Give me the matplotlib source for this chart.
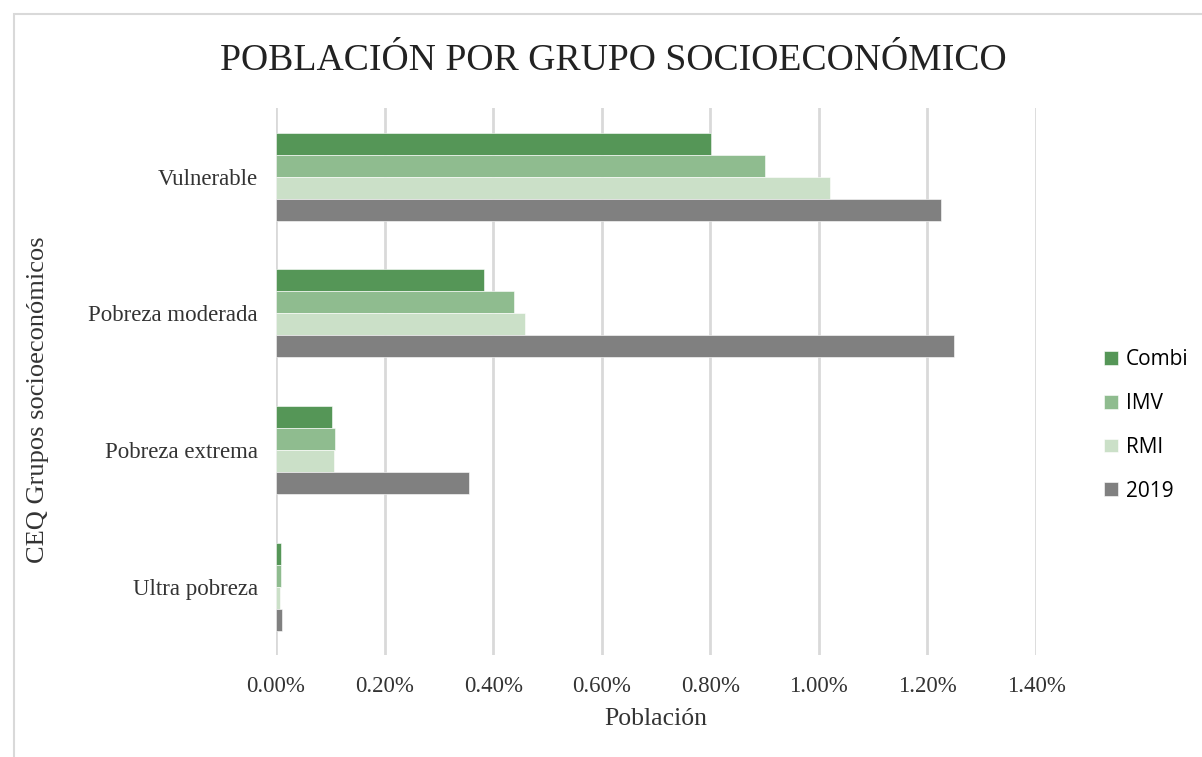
import matplotlib
matplotlib.use('Agg')
import numpy as np
import matplotlib.pyplot as plt
from matplotlib.patches import Rectangle
from matplotlib.ticker import FuncFormatter

# Data (percent of population)
categories = ['Ultra pobreza', 'Pobreza extrema', 'Pobreza moderada', 'Vulnerable']
series_names = ['Combi', 'IMV', 'RMI', '2019']
combi = [0.009, 0.103, 0.383, 0.801]
imv = [0.009, 0.109, 0.438, 0.900]
rmi = [0.008, 0.107, 0.459, 1.020]
y2019 = [0.012, 0.355, 1.249, 1.225]
colors = ['#559657', '#8fbc8f', '#cbe0c8', '#808080']

serif = 'Liberation Serif'

fig = plt.figure(figsize=(12.02, 7.57), dpi=100)
ax = fig.add_axes([0.2296, 0.1347, 0.8619 - 0.2296, 0.857 - 0.1347])

# outer chart border
fig.patches.append(Rectangle((14 / 1202, -0.1), 1.2, 1 - 14 / 757 + 0.1,
                             transform=fig.transFigure, fill=False,
                             edgecolor='#d9d9d9', linewidth=1.5))

y = np.arange(len(categories))
h = 0.161
offsets = [1.5, 0.5, -0.5, -1.5]
for vals, name, col, off in zip([combi, imv, rmi, y2019], series_names, colors, offsets):
    ax.barh(y + off * h, vals, height=h, color=col, label=name,
            edgecolor='white', linewidth=0.4, zorder=3)

ax.set_xlim(0, 1.4)
ax.set_ylim(-0.5, 3.5)
ax.set_xticks(np.arange(0, 1.41, 0.2))
ax.xaxis.set_major_formatter(FuncFormatter(lambda v, p: '%.2f%%' % v))
ax.set_yticks(y)
ax.set_yticklabels(categories)
ax.grid(axis='x', color='#d9d9d9', linewidth=2, zorder=0)
for s in ax.spines.values():
    s.set_visible(False)
ax.tick_params(length=0)
ax.tick_params(axis='x', pad=15)
ax.tick_params(axis='y', pad=13)
for lab in ax.get_xticklabels() + ax.get_yticklabels():
    lab.set_fontfamily(serif)
    lab.set_fontsize(16.5)
    lab.set_color('#333333')

ax.set_xlabel('Población', fontfamily=serif, fontsize=18.5, color='#333333', labelpad=8)
ax.set_ylabel('CEQ Grupos socioeconómicos', fontfamily=serif, fontsize=19,
              color='#333333')
ax.yaxis.set_label_coords(-0.298, 0.467, transform=ax.transAxes)

fig.text(0.51, 0.92, 'POBLACIÓN POR GRUPO SOCIOECONÓMICO', ha='center', va='center',
         fontfamily=serif, fontsize=27.2, color='#222222')

ax.legend(loc='center left', bbox_to_anchor=(1.065, 0.42), frameon=False,
          prop={'family': 'Open Sans', 'size': 15}, labelspacing=1.1,
          handlelength=0.65, handleheight=0.65, handletextpad=0.4)

fig.savefig('out.png', dpi=100)
